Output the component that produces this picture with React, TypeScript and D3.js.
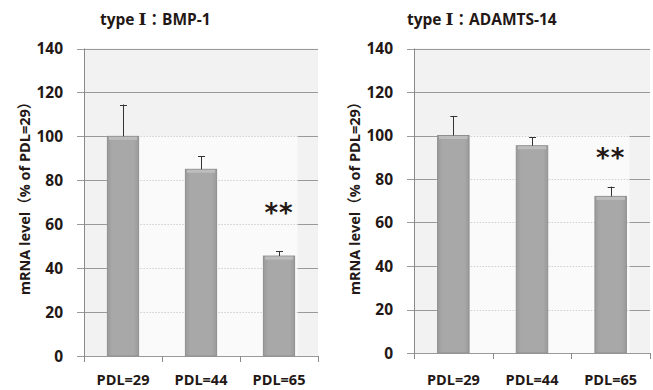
import React, { useEffect, useRef } from "react";
import * as d3 from "d3";

const categories = ["PDL=29", "PDL=44", "PDL=65"];
const bmpValues = [100, 85, 45.5];
const bmpErrors = [14.5, 6, 2.3];
const adamtsValues = [100, 95.3, 72];
const adamtsErrors = [9, 4, 4.5];
const yTicks = [0, 20, 40, 60, 80, 100, 120, 140];
const titleGenes = ["BMP-1", "ADAMTS-14"];
const yLabel = "mRNA level（% of PDL=29）";

const FONT = "'Open Sans', 'Noto Sans CJK JP', sans-serif";

const App = () => {
  const ref = useRef<SVGSVGElement>(null);
  const width = 653,
    height = 390;

  useEffect(() => {
    const svg = d3.select(ref.current);
    svg.selectAll("*").remove();

    const defs = svg.append("defs");
    const grad = defs
      .append("linearGradient")
      .attr("id", "barGrad")
      .attr("x1", "0")
      .attr("x2", "1")
      .attr("y1", "0")
      .attr("y2", "0");
    grad.append("stop").attr("offset", "0").attr("stop-color", "#9a9a9a");
    grad.append("stop").attr("offset", "0.15").attr("stop-color", "#a8a8a8");
    grad.append("stop").attr("offset", "0.85").attr("stop-color", "#a8a8a8");
    grad.append("stop").attr("offset", "1").attr("stop-color", "#9a9a9a");

    // panel layouts
    const panels = [
      { x0: 84, x1: 318, yTop: 48.5, yBottom: 356, values: bmpValues, errors: bmpErrors, star: 2, starY: 61, gene: titleGenes[0], titleX: 100, axisLabelX: 25 },
      { x0: 414, x1: 650, yTop: 48.5, yBottom: 353, values: adamtsValues, errors: adamtsErrors, star: 2, starY: 85.5, gene: titleGenes[1], titleX: 407, axisLabelX: 355 },
    ];

    panels.forEach((p) => {
      const g = svg.append("g");
      const y = d3.scaleLinear().domain([0, 140]).range([p.yBottom, p.yTop]);
      const x = d3
        .scaleBand()
        .domain(categories)
        .range([p.x0, p.x1])
        .paddingInner(0.6)
        .paddingOuter(0.3);

      // plot background
      g.append("rect")
        .attr("x", p.x0)
        .attr("y", y(140))
        .attr("width", p.x1 - p.x0)
        .attr("height", y(0) - y(140))
        .attr("fill", "#f2f2f2");

      // lighter inner area
      const innerL = x(categories[0])!;
      const innerR = x(categories[2])! + x.bandwidth() + 3;
      g.append("rect")
        .attr("x", innerL)
        .attr("y", y(100))
        .attr("width", innerR - innerL)
        .attr("height", y(0) - y(100))
        .attr("fill", "#fafafa");

      // gridlines
      g.selectAll("line.grid")
        .data(yTicks)
        .join("line")
        .attr("class", "grid")
        .attr("x1", p.x0 - 7)
        .attr("x2", p.x1)
        .attr("y1", (d) => Math.round(y(d)) + 0.5)
        .attr("y2", (d) => Math.round(y(d)) + 0.5)
        .attr("stroke", "#9a9a9a")
        .attr("stroke-width", 1);

      // dotted parts inside inner area
      g.selectAll("line.dot")
        .data(yTicks.filter((d) => d > 0 && d <= 100))
        .join("line")
        .attr("class", "dot")
        .attr("x1", innerL)
        .attr("x2", innerR)
        .attr("y1", (d) => Math.round(y(d)) + 0.5)
        .attr("y2", (d) => Math.round(y(d)) + 0.5)
        .attr("stroke", "#fafafa")
        .attr("stroke-width", 1.2);
      g.selectAll("line.dot2")
        .data(yTicks.filter((d) => d > 0 && d <= 100))
        .join("line")
        .attr("class", "dot2")
        .attr("x1", innerL)
        .attr("x2", innerR)
        .attr("y1", (d) => Math.round(y(d)) + 0.5)
        .attr("y2", (d) => Math.round(y(d)) + 0.5)
        .attr("stroke", "#cfcfcf")
        .attr("stroke-dasharray", "1.5,1.5");

      // y axis line
      g.append("line")
        .attr("x1", p.x0 + 0.5)
        .attr("x2", p.x0 + 0.5)
        .attr("y1", y(140))
        .attr("y2", y(0))
        .attr("stroke", "#8a8a8a");

      // x ticks
      const xt = [p.x0, ...categories.map((c) => x(c)! + x.bandwidth() / 2 + x.step() / 2)];
      g.selectAll("line.xt")
        .data(xt)
        .join("line")
        .attr("class", "xt")
        .attr("x1", (d) => Math.round(d) + 0.5)
        .attr("x2", (d) => Math.round(d) + 0.5)
        .attr("y1", Math.round(y(0)))
        .attr("y2", Math.round(y(0)) + 6)
        .attr("stroke", "#8a8a8a");

      // bars
      g.selectAll("rect.bar")
        .data(p.values)
        .join("rect")
        .attr("class", "bar")
        .attr("x", (_, i) => x(categories[i])!)
        .attr("y", (d) => y(d))
        .attr("width", x.bandwidth())
        .attr("height", (d) => y(0) - y(d))
        .attr("fill", "url(#barGrad)")
        .attr("stroke", "#8f8f8f")
        .attr("stroke-width", 1);

      // top highlight
      g.selectAll("rect.hl")
        .data(p.values)
        .join("rect")
        .attr("class", "hl")
        .attr("x", (_, i) => x(categories[i])! + 1.5)
        .attr("y", (d) => y(d) + 0.5)
        .attr("width", x.bandwidth() - 3)
        .attr("height", 3)
        .attr("fill", "#bdbdbd");

      // error bars
      const eg = g
        .selectAll("g.err")
        .data(p.values)
        .join("g")
        .attr("class", "err");
      eg.append("line")
        .attr("x1", (_, i) => Math.round(x(categories[i])! + x.bandwidth() / 2) + 0.5)
        .attr("x2", (_, i) => Math.round(x(categories[i])! + x.bandwidth() / 2) + 0.5)
        .attr("y1", (d) => y(d))
        .attr("y2", (d, i) => y(d + p.errors[i]))
        .attr("stroke", "#333");
      eg.append("line")
        .attr("x1", (_, i) => x(categories[i])! + x.bandwidth() / 2 - 3)
        .attr("x2", (_, i) => x(categories[i])! + x.bandwidth() / 2 + 4)
        .attr("y1", (d, i) => Math.round(y(d + p.errors[i])) + 0.5)
        .attr("y2", (d, i) => Math.round(y(d + p.errors[i])) + 0.5)
        .attr("stroke", "#333");

      // y tick labels
      g.selectAll("text.yt")
        .data(yTicks)
        .join("text")
        .attr("class", "yt")
        .attr("x", p.x0 - 21)
        .attr("y", (d) => y(d))
        .attr("dy", "0.36em")
        .attr("text-anchor", "end")
        .attr("font-family", FONT)
        .attr("font-weight", "bold")
        .attr("font-size", 15.5)
        .attr("fill", "#231815")
        .text((d) => d);

      // x labels
      g.selectAll("text.xl")
        .data(categories)
        .join("text")
        .attr("class", "xl")
        .attr("x", (d) => x(d)! + x.bandwidth() / 2)
        .attr("y", 385)
        .attr("text-anchor", "middle")
        .attr("font-family", FONT)
        .attr("font-weight", "bold")
        .attr("font-size", 14.5)
        .attr("fill", "#231815")
        .text((d) => d);

      // significance stars
      g.append("text")
        .attr("x", x(categories[p.star])! + x.bandwidth() / 2)
        .attr("y", y(p.starY))
        .attr("text-anchor", "middle")
        .attr("font-family", "'DejaVu Sans', sans-serif")
        .attr("font-weight", "bold")
        .attr("font-size", 26)
        .attr("letter-spacing", 1)
        .attr("fill", "#231815")
        .text("**");

      // title
      const t = g
        .append("text")
        .attr("x", p.titleX)
        .attr("y", 25)
        .attr("font-family", FONT)
        .attr("font-weight", "bold")
        .attr("font-size", 15.5)
        .attr("fill", "#231815");
      t.append("tspan").text("type ");
      t.append("tspan")
        .attr("font-family", "'DejaVu Serif', serif")
        .attr("font-size", 17)
        .text("Ⅰ");
      t.append("tspan")
        .attr("font-family", "'Noto Sans CJK JP', sans-serif")
        .text("：");
      t.append("tspan").text(p.gene);

      // y axis title
      g.append("text")
        .attr("transform", `translate(${p.axisLabelX}, ${195}) rotate(-90)`)
        .attr("dy", "0.35em")
        .attr("text-anchor", "middle")
        .attr("font-family", FONT)
        .attr("font-weight", "bold")
        .attr("font-size", 14.5)
        .attr("fill", "#231815")
        .text(yLabel);
    });
  }, []);

  return (
    <svg
      ref={ref}
      width={width}
      height={height}
      style={{ position: "absolute", left: 0, top: 0, background: "white" }}
    />
  );
};

export default App;
